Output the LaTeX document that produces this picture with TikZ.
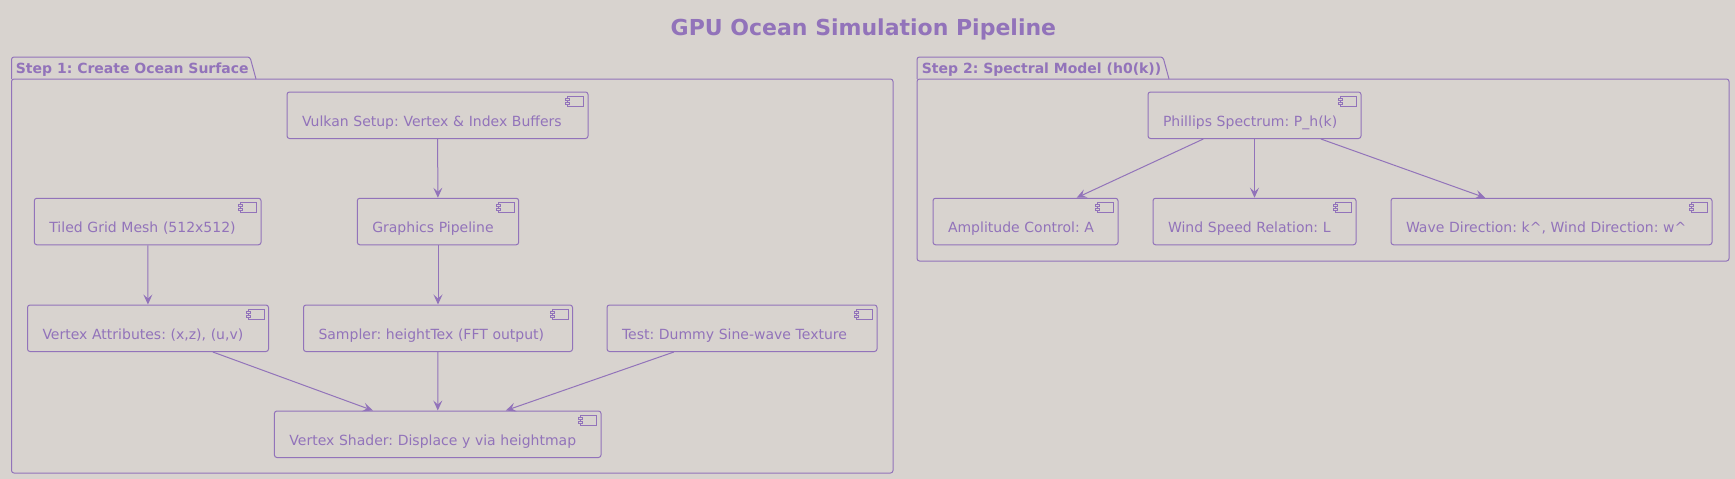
\documentclass[tikz,border=0pt]{standalone}
\usepackage{fontspec}
\setmainfont{DejaVu Sans}
\usetikzlibrary{arrows.meta}
\frenchspacing
\definecolor{bgc}{RGB}{216,211,207}
\definecolor{pur}{RGB}{146,115,186}
\tikzset{
  compbox/.style={draw=pur, line width=1pt, rounded corners=2.5pt, minimum height=46.5pt,
    inner xsep=15pt, inner ysep=0pt, text height=24pt, text depth=2pt, align=left,
    text=pur, font=\fontsize{14}{17}\selectfont\frenchspacing},
  pkgline/.style={draw=pur, line width=1pt},
  pkgtitle/.style={text=pur, font=\fontsize{14}{17}\selectfont\bfseries\frenchspacing, anchor=base west, inner sep=0pt},
  flow/.style={draw=pur, line width=1pt, -{Stealth[length=10pt,width=9pt,inset=4pt]}},
  iconbox/.style={draw=pur, line width=1pt, fill=bgc}
}
\newcommand\compicon[1]{%
  \draw[iconbox] ([xshift=-21pt,yshift=-5pt]#1.north east) rectangle ++(16pt,-10pt);
  \draw[iconbox] ([xshift=-23pt,yshift=-7pt]#1.north east) rectangle ++(4pt,-2pt);
  \draw[iconbox] ([xshift=-23pt,yshift=-11pt]#1.north east) rectangle ++(4pt,-2pt);
}
\begin{document}
\begin{tikzpicture}[x=1pt,y=-1pt]
\useasboundingbox[fill=bgc] (0,0) rectangle (1735,479);
% title
\node[text=pur, font=\fontsize{22}{26}\selectfont\bfseries, anchor=base, inner sep=0pt] (title) at (863.4,35.5) {GPU Ocean Simulation Pipeline};
% package 1
\draw[pkgline, rounded corners=2.5pt] (11.5,79) -- (11.5,57) -- (250,57) -- (256,79);
\draw[pkgline, rounded corners=2.5pt] (11.5,79) rectangle (893,473);
\node[pkgtitle] (p1) at (15.7,73) {Step 1: Create Ocean Surface};
% package 2
\draw[pkgline, rounded corners=2.5pt] (917,79) -- (917,57) -- (1163,57) -- (1169,79);
\draw[pkgline, rounded corners=2.5pt] (917,79) rectangle (1729,261);
\node[pkgtitle] (p2) at (921.7,73) {Step 2: Spectral Model (h0(k))};
% components
\node[compbox, text width=271pt] (vulkan) at (437.5,115.25) {Vulkan Setup: Vertex \& Index Buffers};
\node[compbox, text width=131.4pt] (graphics) at (438,221.5) {Graphics Pipeline};
\node[compbox, text width=196.7pt] (tiled) at (147.7,221.5) {Tiled Grid Mesh (512x512)};
\node[compbox, text width=211pt] (vattr) at (148,328.25) {Vertex Attributes: (x,z), (u,v)};
\node[compbox, text width=239pt] (sampler) at (438,328.25) {Sampler: heightTex (FFT output)};
\node[compbox, text width=240pt] (test) at (742,328.25) {Test: Dummy Sine-wave Texture};
\node[compbox, text width=296.6pt] (vshader) at (437.7,434.25) {Vertex Shader: Displace y via heightmap};
\node[compbox, text width=183pt] (phillips) at (1254.5,115.25) {Phillips Spectrum: P\_h(k)};
\node[compbox, text width=155pt] (amplitude) at (1025.5,221.5) {Amplitude Control: A};
\node[compbox, text width=173pt] (wind) at (1254.5,221.5) {Wind Speed Relation: L};
\node[compbox, text width=291pt] (wave) at (1551.5,221.5) {Wave Direction: k\^{}, Wind Direction: w\^{}};
\foreach \n in {vulkan,graphics,tiled,vattr,sampler,test,vshader,phillips,amplitude,wind,wave} {\compicon{\n}}
% connectors
\draw[flow] (vulkan) -- (graphics);
\draw[flow] (graphics) -- (sampler);
\draw[flow] (tiled) -- (vattr);
\draw[flow] (vattr) -- (vshader);
\draw[flow] (sampler) -- (vshader);
\draw[flow] (test) -- (vshader);
\draw[flow] (phillips) -- (amplitude);
\draw[flow] (phillips) -- (wind);
\draw[flow] (phillips) -- (wave);
\end{tikzpicture}
\end{document}
